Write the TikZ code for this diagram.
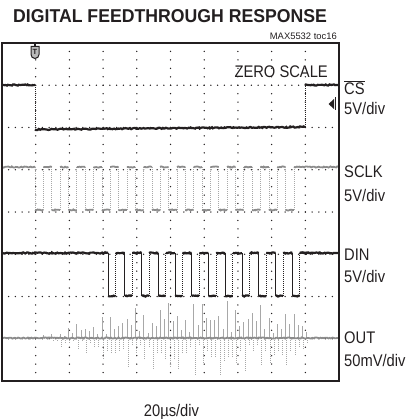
\documentclass[tikz,border=0pt]{standalone}
\usepackage{graphicx}
\usepackage{fontspec}
\setmainfont{Liberation Sans}
\usetikzlibrary{decorations.pathmorphing}
\definecolor{ink}{HTML}{231F20}
\definecolor{gtrace}{HTML}{8C8C8C}
\definecolor{spike}{HTML}{A8A8A8}
\newcommand{\narrow}[1]{\scalebox{0.92}[1.05]{#1}}
\tikzset{
  gdot/.style={fill=ink},
  fuzzy/.style={decorate,decoration={random steps,segment length=1.3pt,amplitude=0.6pt}},
  blacktrace/.style={draw=ink,line width=2.2pt,fuzzy},
  graytrace/.style={draw=gtrace,line width=1.8pt,fuzzy},
  edgesolid/.style={draw=ink,line width=0.6pt},
  edgedot/.style={draw=ink,line width=0.7pt,dash pattern=on 0.9pt off 1.1pt},
  grayedge/.style={draw=spike,line width=0.6pt,dash pattern=on 1pt off 1pt},
  lbl/.style={anchor=base west,inner sep=0pt,text=ink,font=\fontsize{16}{18}\selectfont},
  frame/.style={draw=ink,line width=2.4pt}
}
\begin{document}
\begin{tikzpicture}[x=1pt,y=-1pt]
\useasboundingbox (0,0) rectangle (410,419);
\pgfmathsetseed{4242}
% grid dots
\foreach \i in {1,...,9}{
  \foreach \j in {1,...,39}{
    \fill[gdot] ({2+33.7*\i},{43+8.45*\j}) circle[radius=0.75pt];
  }
}
\foreach \j in {1,...,7}{
  \foreach \i in {1,...,49}{
    \fill[gdot] ({2+6.74*\i},{43+42.25*\j}) circle[radius=0.75pt];
  }
}
% OUT spikes
\foreach \k in {1,...,32}{
  \pgfmathsetmacro\sx{35+8.35*\k}
  \pgfmathsetmacro\env{38*sin((\sx-35)/270*144)}
  \pgfmathsetmacro\up{\env*(0.72+0.28*sin(\k*97))}
  \pgfmathsetmacro\dn{\env*(0.70+0.30*cos(\k*131))}
  \pgfmathsetmacro\upb{\env*(0.35+0.2*cos(\k*71))}
  \pgfmathsetmacro\dnb{\env*(0.40+0.2*sin(\k*53))}
  \draw[spike,line width=0.6pt] (\sx,338) -- (\sx,{338-\up});
  \draw[grayedge] ({\sx+1.2},338) -- ({\sx+1.2},{338+\dn});
  \draw[spike,line width=0.5pt] ({\sx+4.2},338) -- ({\sx+4.2},{338-\upb});
  \draw[grayedge,line width=0.5pt] ({\sx+5.2},338) -- ({\sx+5.2},{338+\dnb});
}
% OUT baseline
\draw[graytrace] (3,338) -- (338,338);
% CS trace
\draw[blacktrace] (3,85) -- (35,85);
\draw[edgedot] (35,85) -- (35,129.5);
\draw[blacktrace] (35,129.5) -- (305,127);
\draw[edgedot] (305,127) -- (305,85);
\draw[blacktrace] (305,85) -- (338,85);
% SCLK trace
\draw[graytrace] (3,167) -- (35,167);
\foreach \k in {0,...,15}{
  \pgfmathsetmacro\xa{35+16.7*\k}
  \pgfmathsetmacro\xb{\xa+8.35}
  \pgfmathsetmacro\xc{\xa+16.7}
  \draw[grayedge] (\xa,167) -- (\xa,210);
  \draw[graytrace] (\xa,210) -- (\xb,210);
  \draw[grayedge] (\xb,210) -- (\xb,167);
  \draw[graytrace] (\xb,167) -- (\xc,167);
}
\draw[graytrace] (302,167) -- (338,167);
% DIN trace
\draw[blacktrace] (3,253) -- (108,253);
\foreach \k in {0,...,11}{
  \pgfmathsetmacro\xa{108+16.75*\k}
  \pgfmathsetmacro\xb{\xa+7.5}
  \pgfmathsetmacro\xc{\xa+16.75}
  \draw[edgesolid] (\xa,253) -- (\xa,296);
  \draw[blacktrace] (\xa,296) -- (\xb,296);
  \draw[edgedot] (\xb,296) -- (\xb,253);
  \draw[blacktrace] (\xb,253) -- (\xc,253);
}
\draw[blacktrace] (300,253) -- (338,253);
% frame
\draw[frame] (2,43) rectangle (339,381);
% trigger marker
\draw[ink,line width=1.2pt] (35,43) -- (35,47);
\draw[ink,line width=1pt,fill=gray!55] (31,46.5) -- (39,46.5) -- (39,54.5) arc[start angle=0,end angle=-180,radius=4pt] -- cycle;
\node[inner sep=0pt,font=\fontsize{7.5}{7.5}\selectfont\bfseries,text=ink] (trig) at (35,51.5) {T};
% level marker
\fill[ink] (328.5,104) -- (334,99) -- (334,109) -- cycle;
\draw[ink,line width=1pt] (335,97.5) -- (335,110.5);
% texts
\node[anchor=base west,inner sep=0pt,text=ink,font=\fontsize{18.6}{20}\selectfont\bfseries] (title) at (13,22.7) {\scalebox{0.95}[1]{DIGITAL FEEDTHROUGH RESPONSE}};
\node[anchor=base east,inner sep=0pt,text=ink,font=\fontsize{9.4}{10}\selectfont] (toc) at (337,40) {MAX5532 toc16};
\node[anchor=base east,inner sep=0pt,text=ink,font=\fontsize{16}{18}\selectfont] (zs) at (328,78) {\narrow{ZERO SCALE}};
\node[lbl] (cs) at (344,94.7) {\narrow{$\overline{\hbox{CS}}$}};
\node[lbl] (cs2) at (344,115) {\narrow{5V/div}};
\node[lbl] (sclk) at (344,178) {\narrow{SCLK}};
\node[lbl] (sclk2) at (344,201) {\narrow{5V/div}};
\node[lbl] (din) at (344,260) {\narrow{DIN}};
\node[lbl] (din2) at (344,282) {\narrow{5V/div}};
\node[lbl] (out) at (344,343) {\narrow{OUT}};
\node[lbl] (out2) at (344,366) {\narrow{50mV/div}};
\node[anchor=base,inner sep=0pt,text=ink,font=\fontsize{16}{18}\selectfont] (tb) at (171.5,416) {\narrow{20µs/div}};
\end{tikzpicture}
\end{document}
